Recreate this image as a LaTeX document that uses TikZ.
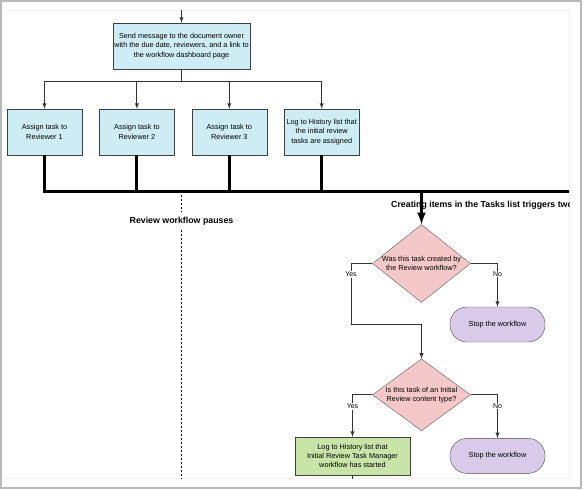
\documentclass[tikz,border=0pt]{standalone}
\usepackage{fontspec}
\setmainfont{Liberation Sans}
\usetikzlibrary{shapes.geometric}
\usetikzlibrary{arrows}
\usetikzlibrary{positioning}
\usepackage{xcolor}

\definecolor{taskblue}{RGB}{206,236,244}
\definecolor{decpink}{RGB}{244,200,200}
\definecolor{stopviolet}{RGB}{216,202,232}
\definecolor{loggreen}{RGB}{200,228,168}

\tikzset{
  boxfont/.style={font=\fontsize{7.3}{9.3}\selectfont},
  taskbox/.style={rectangle,draw=black!75,fill=taskblue,align=center,inner sep=1pt,boxfont,minimum width=75pt,minimum height=46pt},
  decision/.style={diamond,draw=black!65,fill=decpink,align=center,inner sep=-4pt,minimum width=98pt,minimum height=71pt,boxfont},
  stopbox/.style={rectangle,rounded corners=17pt,draw=black!70,fill=stopviolet,minimum width=95pt,minimum height=35pt,boxfont},
  logbox/.style={rectangle,draw=black!75,fill=loggreen,align=center,inner sep=1pt,minimum width=115pt,minimum height=38pt,boxfont},
  flow/.style={draw=black!80,line width=0.9pt,-latex},
  bus/.style={line width=3pt},
  pausedots/.style={line width=1.8pt,dash pattern=on 1.8pt off 2.2pt},
  yesno/.style={fill=white,inner sep=0.8pt,font=\fontsize{7}{8}\selectfont},
  notice/.style={font=\bfseries\fontsize{8.8}{10}\selectfont,inner sep=1pt}
}

\begin{document}
\begin{tikzpicture}[x=1pt,y=-1pt]
\useasboundingbox (0,0) rectangle (584,490);
% screenshot frame
\draw [gray!55,line width=1.5pt] (1,1) rectangle (581,488);
\draw [gray!12] (3,10) -- (569,10) -- (569,478) -- (3,478);

\begin{scope}
\clip (3,10) rectangle (569,478);

\node [taskbox,minimum width=137pt] (send) at (181.5,46) {Send message to the document owner\\with the due date, reviewers, and a link to\\the workflow dashboard page};
\node [taskbox] (rev1) at (44.5,132) {Assign task to\\Reviewer 1};
\node [taskbox,right=17pt of rev1] (rev2) {Assign task to\\Reviewer 2};
\node [taskbox,right=17pt of rev2] (rev3) {Assign task to\\Reviewer 3};
\node [taskbox,right=17pt of rev3] (hist) {Log to History list that\\the initial review\\tasks are assigned};

\coordinate (entry) at (181.5,6);
\draw [flow] (entry) -- (send);
\foreach \t in {rev1,rev2,rev3,hist}
  \draw [flow] (send.south) -- ++(0,12) -| (\t.north);

% tasks created: bus to the right
\coordinate (busR) at (575,191);
\draw [bus] (rev1.south) |- (busR);
\foreach \t in {rev2,rev3,hist}
  \draw [bus] (\t.south) -- (\t.south |- busR);

% workflow pauses
\node [notice,inner sep=5pt] (pause) at (181.5,221) {Review workflow pauses};
\coordinate (dtop) at (181.5,195);
\coordinate (dbot) at (181.5,482);
\draw [pausedots] (dtop) -- (pause);
\draw [pausedots] (pause) -- (dbot);

\node [decision] (q1) at (421.5,263.5) {Was this task created by\\the Review workflow?};
\node [decision,below=56pt of q1] (q2) {Is this task of an Initial\\Review content type?};
\node [stopbox] (stop1) at (497.5,324.5) {Stop the workflow};
\node [stopbox,below=96pt of stop1] (stop2) {Stop the workflow};
\node [logbox] (log) at (352.5,456) {Log to History list that\\Initial Review Task Manager\\workflow has started};

\draw [bus,-latex] (q1.north |- busR) -- (q1.north);
\node [notice,anchor=west] (trig) at (390,205) {Creating items in the Tasks list triggers two};

\coordinate (yesturn) at (351,324);
\draw [flow] (q1.west) -| node [yesno,pos=0.59] {Yes} (yesturn) -| (q2.north);
\draw [flow] (q1.east) -| node [yesno,pos=0.62] {No} (stop1.north);
\draw [flow] (q2.west) -| node [yesno,pos=0.64] {Yes} (log.north);
\draw [flow] (q2.east) -| node [yesno,pos=0.63] {No} (stop2.north);

\coordinate (logout) at (352.5,482);
\draw [draw=black!80,line width=0.9pt] (log) -- (logout);
\end{scope}
\end{tikzpicture}
\end{document}
